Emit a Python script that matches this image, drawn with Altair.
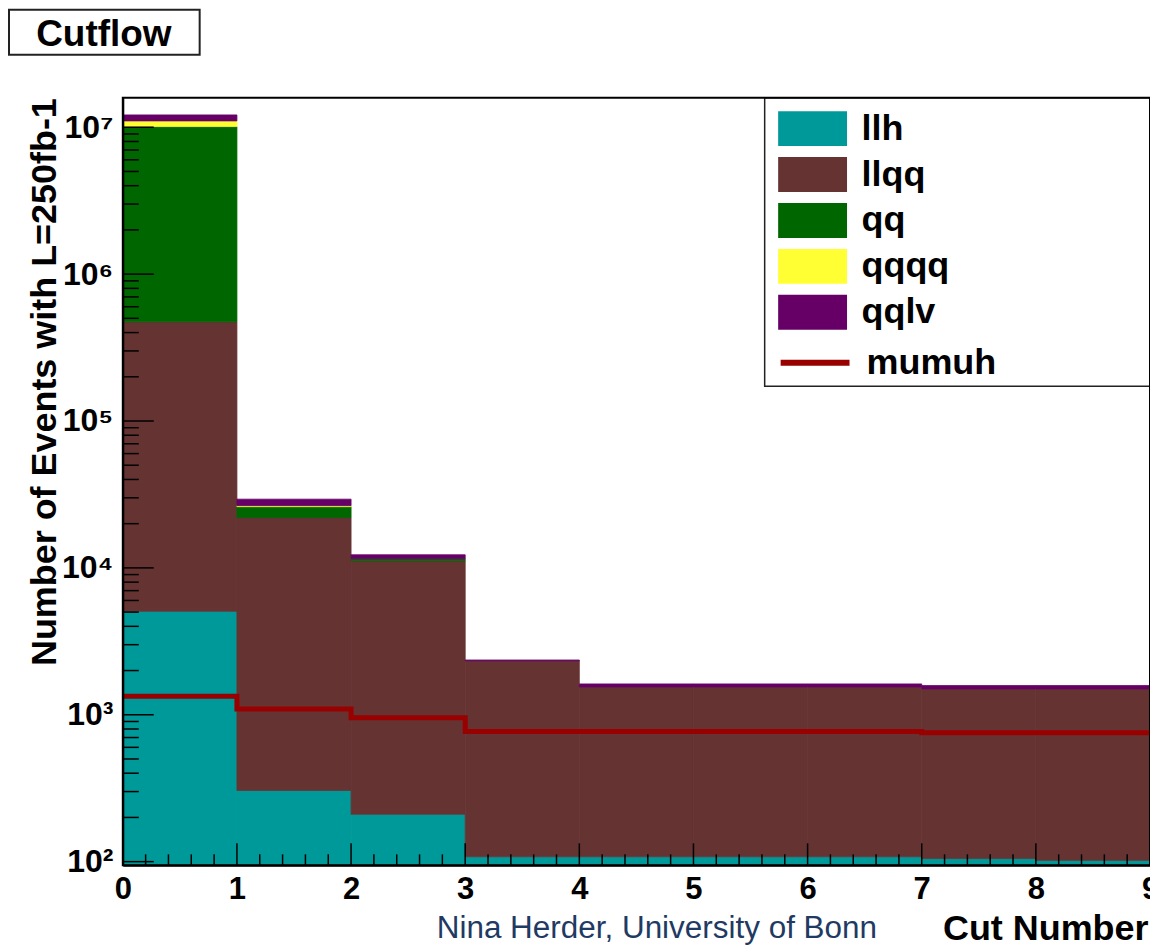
import altair as alt
import pandas as pd

# ---------------- data ----------------
STACKED = ["llh", "llqq", "qq", "qqqq", "qqlv"]
STACK_COLORS = ["#009999", "#663333", "#006600", "#ffff33", "#660066"]
LINE_SERIES = ["mumuh"]
LINE_COLORS = ["#990000"]

BIN_LO = [0, 1, 2, 3, 4, 5, 6, 7, 8]
BIN_HI = [1, 2, 3, 4, 5, 6, 7, 8, 9]

LLH = [5060, 305, 210, 108, 108, 108, 108, 105, 102]
LLQQ = [468000, 21700, 10960, 2222, 1439, 1439, 1439, 1395, 1398]
QQ = [9630000, 4100, 360, 0, 0, 0, 0, 0, 0]
QQQQ = [940000, 410, 0, 0, 0, 0, 0, 0, 0]
QQLV = [1090000, 2850, 750, 30, 75, 75, 75, 80, 80]
MUMUH = [1335, 1093, 954, 769, 769, 769, 769, 753, 753]

Y_MIN, Y_MAX = 94.4, 1.59e7
X_MAJOR = [0, 1, 2, 3, 4, 5, 6, 7, 8, 9]
X_MINOR = [round(i * 0.2, 1) for i in range(46) if i % 5 != 0]
Y_MAJOR = [100, 1000, 10000, 100000, 1000000, 10000000]
Y_MINOR = [m * 10 ** e for e in range(2, 7) for m in range(2, 10)]
Y_LABELS = ["10²", "10³", "10⁴", "10⁵", "10⁶", "10⁷"]

TITLE_TEXT = "Cutflow"
FOOTER_TEXT = "Nina Herder, University of Bonn"
X_TITLE = "Cut Number"
Y_TITLE = "Number of Events with L=250fb-1"

FONT = "Liberation Sans"
W, H = 1029, 769

# ---------------- build tables ----------------
values = {"llh": LLH, "llqq": LLQQ, "qq": QQ, "qqqq": QQQQ, "qqlv": QQLV}
rows = []
for i, (a, b) in enumerate(zip(BIN_LO, BIN_HI)):
    base = 0.0
    for s in STACKED:
        v = values[s][i]
        if v <= 0:
            continue
        rows.append({"series": s, "x0": a, "x1": b,
                     "lo": max(base, Y_MIN), "hi": base + v})
        base += v
rect_df = pd.DataFrame(rows)

line_df = pd.DataFrame({
    "series": LINE_SERIES * (len(BIN_LO) + 1),
    "x": BIN_LO + [BIN_HI[-1]],
    "y": MUMUH + [MUMUH[-1]],
})

one = pd.DataFrame({"t": [TITLE_TEXT]})
foot = pd.DataFrame({"t": [FOOTER_TEXT]})
xmaj = pd.DataFrame({"v": X_MAJOR})
xmin = pd.DataFrame({"v": X_MINOR})
ymaj = pd.DataFrame({"v": Y_MAJOR})
ymin = pd.DataFrame({"v": Y_MINOR})

# ---------------- scales / axes ----------------
xscale = alt.Scale(domain=[0, 9], nice=False, zero=False)
yscale = alt.Scale(type="log", domain=[Y_MIN, Y_MAX], nice=False)
stack_scale = alt.Scale(domain=STACKED, range=STACK_COLORS)

label_map = "{" + ", ".join(f"'{v}': '{l}'" for v, l in zip(Y_MAJOR, Y_LABELS)) + "}"

x_axis = alt.Axis(
    values=X_MAJOR, grid=False, ticks=False,
    domainColor="black", domainWidth=2, labelFont=FONT, labelFontWeight="bold",
    labelFontSize=31, labelColor="black", labelPadding=9, labelOverlap=False,
    labelFlush=False, format="d",
    title=X_TITLE, titleFont=FONT, titleFontWeight="bold", titleFontSize=36,
    titleColor="black", titleX=1027, titleY=74, titleAlign="right",
    titleBaseline="alphabetic", zindex=1,
)

y_axis = alt.Axis(
    values=Y_MAJOR, grid=False, ticks=False,
    domainColor="black", domainWidth=2, labelFont=FONT, labelFontWeight="bold",
    labelFontSize=32, labelColor="black", labelPadding=10, labelOverlap=False,
    labelFlush=False, labelExpr=label_map + "[format(datum.value, 'd')]",
    title=Y_TITLE, titleFont=FONT, titleFontWeight="bold", titleFontSize=36,
    titleColor="black", titleX=-67, titleY=0, titleAlign="right",
    titleBaseline="alphabetic", titleAngle=270, zindex=1,
)

# swatch 69 x 35 px drawn from a path twice as wide as the nominal symbol size
RECT_PATH = "M-2,-1.015H2V1.015H-2Z"
fill_legend = alt.Legend(
    title=None, orient="none", legendX=673, legendY=13, direction="vertical",
    symbolType=RECT_PATH, symbolSize=1190, symbolStrokeWidth=0, symbolOpacity=1,
    labelFont=FONT, labelFontWeight="bold", labelFontSize=36, labelColor="black",
    labelOffset=31, rowPadding=10, padding=0, labelLimit=400,
)
line_legend = alt.Legend(
    title=None, orient="none", legendX=656, legendY=228, direction="vertical",
    symbolType="stroke", symbolSize=4761, symbolStrokeWidth=6, symbolOpacity=1,
    labelFont=FONT, labelFontWeight="bold", labelFontSize=36, labelColor="black",
    labelOffset=14, padding=0, labelLimit=400,
)

# ---------------- layers ----------------
title_box = alt.Chart(one).mark_rect(fill="white", stroke="#222", strokeWidth=2).encode(
    x=alt.value(-114), x2=alt.value(77), y=alt.value(-88), y2=alt.value(-43))
title_txt = alt.Chart(one).mark_text(
    font=FONT, fontWeight="bold", fontSize=37, color="black",
    align="center", baseline="alphabetic").encode(
    x=alt.value(-19), y=alt.value(-52), text="t:N")

legend_box = alt.Chart(one).mark_rect(fill="white", stroke="#222", strokeWidth=1.5).encode(
    x=alt.value(643), x2=alt.value(W), y=alt.value(0), y2=alt.value(289))

bars = alt.Chart(rect_df).mark_rect(strokeWidth=0.8).encode(
    x=alt.X("x0:Q", scale=xscale, axis=x_axis),
    x2="x1:Q",
    y=alt.Y("lo:Q", scale=yscale, axis=y_axis),
    y2="hi:Q",
    color=alt.Color("series:N", scale=stack_scale, legend=fill_legend),
    stroke=alt.Stroke("series:N", scale=stack_scale, legend=None),
)

line = alt.Chart(line_df).mark_line(interpolate="step-after", strokeWidth=5).encode(
    x=alt.X("x:Q", scale=xscale),
    y=alt.Y("y:Q", scale=yscale),
    stroke=alt.Stroke("series:N", scale=alt.Scale(domain=LINE_SERIES, range=LINE_COLORS),
                      legend=line_legend),
)

ytick_major = alt.Chart(ymaj).mark_rule(color="black", strokeWidth=1.5).encode(
    y=alt.Y("v:Q", scale=yscale), x=alt.value(0), x2=alt.value(31))
ytick_minor = alt.Chart(ymin).mark_rule(color="black", strokeWidth=1.5).encode(
    y=alt.Y("v:Q", scale=yscale), x=alt.value(0), x2=alt.value(16))
xtick_major = alt.Chart(xmaj).mark_rule(color="black", strokeWidth=1.5).encode(
    x=alt.X("v:Q", scale=xscale), y=alt.value(H), y2=alt.value(H - 22))
xtick_minor = alt.Chart(xmin).mark_rule(color="black", strokeWidth=1.5).encode(
    x=alt.X("v:Q", scale=xscale), y=alt.value(H), y2=alt.value(H - 11))

footer = alt.Chart(foot).mark_text(
    font=FONT, fontSize=31.5, color="#1f3a63", align="center",
    baseline="alphabetic").encode(
    x=alt.value(535), y=alt.value(842), text="t:N")

frame = alt.Chart(one).mark_rect(fillOpacity=0, stroke="black", strokeWidth=2).encode(
    x=alt.value(0), x2=alt.value(W), y=alt.value(0), y2=alt.value(H))

chart = alt.layer(
    title_box, title_txt, legend_box, bars, line,
    ytick_major, ytick_minor, xtick_major, xtick_minor, footer, frame
).resolve_scale(color="independent", stroke="independent").properties(
    width=W, height=H,
    padding={"left": 115, "top": 89, "right": 0, "bottom": 80},
    autosize=alt.AutoSizeParams(type="none"),
    background="white",
).configure_view(stroke="transparent")

chart.save("out.html", embed_options={"renderer": "svg", "actions": False})
